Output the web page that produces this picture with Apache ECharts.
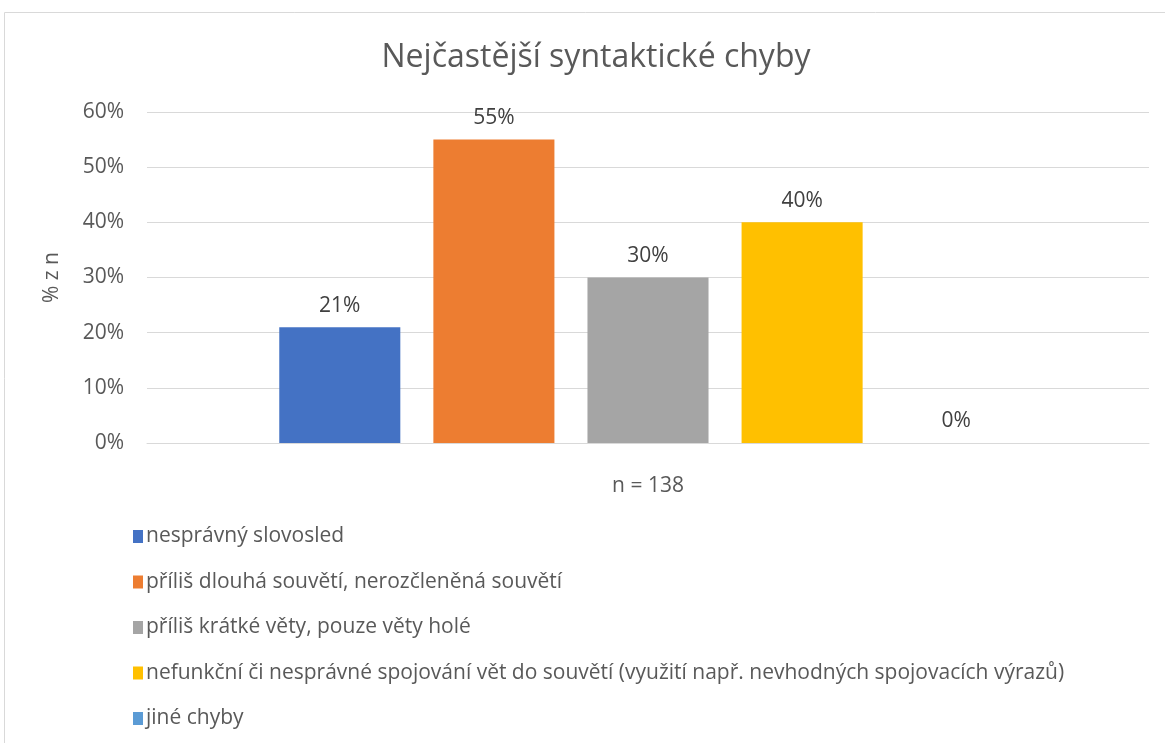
<!DOCTYPE html>
<html>
<head>
<meta charset="utf-8">
<script src="https://cdn.jsdelivr.net/npm/echarts@6/dist/echarts.min.js"></script>
<style>
  html, body { margin: 0; padding: 0; background: #fff; }
  #chart { width: 1165px; height: 743px; }
</style>
</head>
<body>
<div id="chart"></div>
<script>
const categories = ['n = 138'];
const seriesNames = [
  'nesprávný slovosled',
  'příliš dlouhá souvětí, nerozčleněná souvětí',
  'příliš krátké věty, pouze věty holé',
  'nefunkční či nesprávné spojování vět do souvětí (využití např. nevhodných spojovacích výrazů)',
  'jiné chyby'
];
const seriesValues = [21, 55, 30, 40, 0];
const seriesColors = ['#4472C4', '#ED7D31', '#A5A5A5', '#FFC000', '#5B9BD5'];

const font = '"Open Sans", sans-serif';
const textColor = '#595959';

const chart = echarts.init(document.getElementById('chart'));

const series = seriesNames.map((name, i) => ({
  name: name,
  type: 'bar',
  data: [seriesValues[i]],
  barCategoryGap: '26.4%',
  barGap: '27.3%',
  itemStyle: { color: seriesColors[i] },
  label: {
    show: true,
    position: 'top',
    distance: 11,
    formatter: p => p.value + '%',
    fontFamily: font,
    fontSize: 21,
    color: '#404040'
  }
}));

chart.setOption({
  animation: false,
  title: {
    text: 'Nejčastější syntaktické chyby',
    left: 591,
    top: 37,
    textAlign: 'center',
    textStyle: { fontFamily: font, fontSize: 32, fontWeight: 'normal', color: textColor }
  },
  graphic: [{
    type: 'rect',
    shape: { x: 4.5, y: 12.5, width: 1200, height: 800 },
    style: { fill: 'none', stroke: '#d9d9d9', lineWidth: 1 },
    silent: true
  }],
  legend: {
    orient: 'vertical',
    left: 128,
    top: 521,
    itemWidth: 10,
    itemHeight: 13,
    itemGap: 24.5,
    icon: 'rect',
    data: seriesNames,
    textStyle: { fontFamily: font, fontSize: 21, color: textColor, padding: [0, 0, 0, -2] }
  },
  grid: { left: 147, right: 16, top: 112, bottom: 300, containLabel: false },
  xAxis: {
    type: 'category',
    data: categories,
    axisLine: { show: true, lineStyle: { color: '#d9d9d9' } },
    axisTick: { show: false },
    axisLabel: { fontFamily: font, fontSize: 21, color: textColor, margin: 33 }
  },
  yAxis: {
    type: 'value',
    min: 0,
    max: 60,
    interval: 10,
    name: '% z n',
    nameLocation: 'middle',
    nameGap: 84,
    nameRotate: 90,
    nameTextStyle: { fontFamily: font, fontSize: 21, color: textColor },
    axisLine: { show: false },
    axisTick: { show: false },
    axisLabel: { formatter: '{value}%', fontFamily: font, fontSize: 21, color: textColor, margin: 23 },
    splitLine: { lineStyle: { color: '#d9d9d9', width: 1 } }
  },
  series: series
});
</script>
</body>
</html>
